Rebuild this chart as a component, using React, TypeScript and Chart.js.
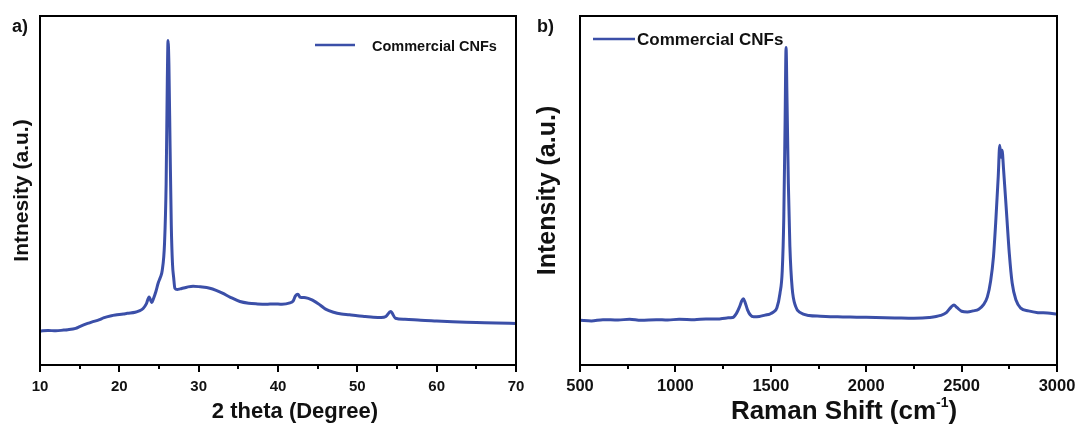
import React, { useEffect, useRef } from 'react';
import { Chart, registerables } from 'chart.js';

Chart.register(...registerables);

const LINE_COLOR = '#3b4fa8';
const FONT = '"Liberation Sans", Arial, Helvetica, sans-serif';

// ---- Panel a) XRD ----
const xrdAngle = [10, 11, 12, 13, 13.5, 14.5, 15, 16, 16.5, 17.5, 18, 19, 19.5, 20.5, 21, 22, 22.5, 23, 23.4, 23.75, 24.1, 24.3, 24.6, 24.9, 25.15, 25.4, 25.7, 25.9, 26.05, 26.14, 26.25, 26.4, 26.55, 26.7, 26.85, 27.0, 27.3, 27.65, 28.5, 29.3, 30.2, 31.4, 32.2, 33, 34, 35.2, 36.3, 37.4, 38.5, 39.5, 40.5, 41.5, 41.9, 42.2, 42.5, 42.8, 43.5, 44.4, 45.3, 46, 47, 48, 49, 50, 51, 52, 53, 53.6, 54.2, 54.8, 56, 58, 60, 62, 65, 67.5, 70];
const xrdIntensity = [9.7, 9.9, 9.8, 10.0, 10.1, 10.5, 11.0, 11.9, 12.3, 13.0, 13.5, 14.1, 14.3, 14.6, 14.8, 15.1, 15.5, 16.2, 17.5, 19.5, 17.9, 19.0, 21.0, 23.5, 25.0, 27.0, 35, 52, 82, 93, 86, 62, 40, 29, 25, 22.0, 21.6, 21.8, 22.3, 22.6, 22.4, 22.0, 21.4, 20.6, 19.4, 18.2, 17.7, 17.5, 17.4, 17.5, 17.4, 17.8, 18.3, 19.8, 20.3, 19.4, 19.3, 18.5, 17.2, 16.0, 15.1, 14.6, 14.4, 14.1, 13.9, 13.7, 13.6, 13.9, 15.3, 13.4, 13.1, 12.8, 12.6, 12.4, 12.2, 12.0, 11.9];
const xrdMinorTicks = [15, 25, 35, 45, 55, 65];

// ---- Panel b) Raman ----
const ramanShift = [500, 560, 620, 700, 760, 820, 900, 960, 1020, 1100, 1160, 1220, 1270, 1300, 1320, 1335, 1348, 1356, 1365, 1378, 1392, 1410, 1440, 1470, 1495, 1515, 1532, 1548, 1560, 1568, 1575, 1580, 1585, 1592, 1600, 1612, 1630, 1655, 1700, 1760, 1850, 1950, 2050, 2150, 2250, 2330, 2390, 2420, 2445, 2460, 2475, 2500, 2530, 2560, 2590, 2615, 2635, 2652, 2667, 2680, 2692, 2700, 2706, 2712, 2720, 2735, 2750, 2765, 2785, 2810, 2850, 2900, 2950, 3000];
const ramanIntensity = [12.8, 12.6, 13.0, 12.9, 13.1, 12.8, 13.0, 12.9, 13.1, 13.0, 13.2, 13.2, 13.5, 13.6, 14.8, 16.5, 18.4, 19.0, 18.0, 15.8, 14.4, 13.8, 13.9, 14.3, 14.6, 15.2, 16.4, 20.5, 27, 42, 70, 91, 76, 52, 34, 22, 16.8, 15.0, 14.2, 14.0, 13.8, 13.7, 13.6, 13.5, 13.4, 13.6, 14.2, 15.0, 16.6, 17.2, 16.5, 15.4, 15.2, 15.5, 16.0, 17.3, 19.5, 24.0, 31, 42, 54, 63, 59.5, 61.5, 56, 44, 32, 23.5, 18.6, 16.3, 15.5, 15.0, 14.9, 14.6];
const ramanMinorTicks = [750, 1250, 1750, 2250, 2750];

const seriesLabel = 'Commercial CNFs';

type Spec = {
  canvasLeft: number;
  width: number;
  padRight: number;
  yWidth: number;
  xMin: number;
  xMax: number;
  step: number;
  minor: number[];
  tickSize: number;
  tickPad: number;
  xs: number[];
  ys: number[];
  yTitle: string;
  yTitleSize: number;
  yTitlePad: number;
  legend: { x1: number; x2: number; y: number; tx: number; ty: number; size: number };
  panel: { text: string; x: number; y: number };
  xTitle: { main: string; sup?: string; tail?: string; cx: number; baseline: number; size: number };
};

const H = 432;
const TOP = 16;
const BOTTOM = 365;

function makePlugin(spec: Spec) {
  return {
    id: 'decor',
    afterDraw(chart: any) {
      const { ctx, chartArea } = chart;
      const xs = chart.scales.x;
      ctx.save();
      // frame
      ctx.strokeStyle = '#000';
      ctx.lineWidth = 2;
      ctx.strokeRect(chartArea.left, chartArea.top, chartArea.right - chartArea.left, chartArea.bottom - chartArea.top);
      // major ticks (from the scale's own ticks)
      for (const t of xs.ticks) {
        const px = Math.round(xs.getPixelForValue(t.value));
        ctx.beginPath();
        ctx.moveTo(px, chartArea.bottom);
        ctx.lineTo(px, chartArea.bottom + 7);
        ctx.stroke();
      }
      // minor ticks
      for (const v of spec.minor) {
        const px = Math.round(xs.getPixelForValue(v));
        ctx.beginPath();
        ctx.moveTo(px, chartArea.bottom);
        ctx.lineTo(px, chartArea.bottom + 4);
        ctx.stroke();
      }
      // legend
      ctx.strokeStyle = LINE_COLOR;
      ctx.lineWidth = 2.5;
      ctx.beginPath();
      ctx.moveTo(spec.legend.x1, spec.legend.y);
      ctx.lineTo(spec.legend.x2, spec.legend.y);
      ctx.stroke();
      ctx.fillStyle = '#111';
      ctx.textBaseline = 'alphabetic';
      ctx.textAlign = 'left';
      ctx.font = `bold ${spec.legend.size}px ${FONT}`;
      ctx.fillText(seriesLabel, spec.legend.tx, spec.legend.ty);
      // panel label
      ctx.font = `bold 18px ${FONT}`;
      ctx.fillText(spec.panel.text, spec.panel.x, spec.panel.y);
      // x title
      const t = spec.xTitle;
      const mainFont = `bold ${t.size}px ${FONT}`;
      const supSize = Math.round(t.size * 0.55);
      const supFont = `bold ${supSize}px ${FONT}`;
      ctx.font = mainFont;
      const wMain = ctx.measureText(t.main).width;
      const wTail = t.tail ? ctx.measureText(t.tail).width : 0;
      ctx.font = supFont;
      const wSup = t.sup ? ctx.measureText(t.sup).width : 0;
      let x = t.cx - (wMain + wSup + wTail) / 2;
      ctx.font = mainFont;
      ctx.fillText(t.main, x, t.baseline);
      x += wMain;
      if (t.sup) {
        ctx.font = supFont;
        ctx.fillText(t.sup, x, t.baseline - t.size * 0.48);
        x += wSup;
      }
      if (t.tail) {
        ctx.font = mainFont;
        ctx.fillText(t.tail, x, t.baseline);
      }
      ctx.restore();
    },
  };
}

function Panel({ spec }: { spec: Spec }) {
  const ref = useRef<HTMLCanvasElement | null>(null);
  useEffect(() => {
    if (!ref.current) return;
    const data = spec.xs.map((x, i) => ({ x, y: spec.ys[i] }));
    const chart = new Chart(ref.current, {
      type: 'line',
      data: {
        datasets: [
          {
            label: seriesLabel,
            data,
            borderColor: LINE_COLOR,
            borderWidth: 3,
            pointRadius: 0,
            cubicInterpolationMode: 'monotone',
            fill: false,
          },
        ],
      },
      options: {
        animation: false,
        responsive: false,
        devicePixelRatio: 1,
        layout: { padding: { left: 0, right: spec.padRight, top: TOP, bottom: 0 } },
        plugins: { legend: { display: false }, tooltip: { enabled: false } },
        scales: {
          x: {
            type: 'linear',
            min: spec.xMin,
            max: spec.xMax,
            border: { display: false },
            grid: { display: true, drawOnChartArea: false, drawTicks: true, tickLength: 7, color: 'rgba(0,0,0,0)', lineWidth: 2 },
            ticks: {
              stepSize: spec.step,
              padding: spec.tickPad,
              color: '#111',
              maxRotation: 0,
              autoSkip: false,
              font: { family: FONT, weight: 'bold', size: spec.tickSize },
              callback: (v: any) => String(v),
            },
            afterFit: (s: any) => {
              s.height = H - BOTTOM;
              s.paddingLeft = 0;
              s.paddingRight = 0;
            },
          },
          y: {
            min: 0,
            max: 100,
            border: { display: false },
            grid: { display: false },
            ticks: { display: false },
            title: {
              display: true,
              text: spec.yTitle,
              color: '#111',
              font: { family: FONT, weight: 'bold', size: spec.yTitleSize },
              padding: { top: spec.yTitlePad, bottom: 0 },
            },
            afterFit: (s: any) => {
              s.width = spec.yWidth;
            },
          },
        },
      },
      plugins: [makePlugin(spec)],
    } as any);
    return () => chart.destroy();
  }, [spec]);
  return (
    <canvas
      ref={ref}
      width={spec.width}
      height={H}
      style={{ position: 'absolute', left: spec.canvasLeft, top: 0, width: spec.width, height: H }}
    />
  );
}

const specA: Spec = {
  canvasLeft: 0,
  width: 540,
  padRight: 24,
  yWidth: 40,
  xMin: 10,
  xMax: 70,
  step: 10,
  minor: xrdMinorTicks,
  tickSize: 15,
  tickPad: 6,
  xs: xrdAngle,
  ys: xrdIntensity,
  yTitle: 'Intnesity (a.u.)',
  yTitleSize: 21,
  yTitlePad: 10,
  legend: { x1: 315, x2: 355, y: 45, tx: 372, ty: 51, size: 14.5 },
  panel: { text: 'a)', x: 12, y: 32 },
  xTitle: { main: '2 theta (Degree)', cx: 295, baseline: 418, size: 22 },
};

const specB: Spec = {
  canvasLeft: 520,
  width: 560,
  padRight: 23,
  yWidth: 60,
  xMin: 500,
  xMax: 3000,
  step: 500,
  minor: ramanMinorTicks,
  tickSize: 16.5,
  tickPad: 5,
  xs: ramanShift,
  ys: ramanIntensity,
  yTitle: 'Intensity (a.u.)',
  yTitleSize: 25,
  yTitlePad: 13,
  legend: { x1: 73, x2: 115, y: 39, tx: 117, ty: 45, size: 17 },
  panel: { text: 'b)', x: 17, y: 32 },
  xTitle: { main: 'Raman Shift (cm', sup: '-1', tail: ')', cx: 324, baseline: 419, size: 26 },
};

export default function App() {
  return (
    <div style={{ position: 'absolute', left: 0, top: 0, width: 1080, height: H, background: '#fff', overflow: 'hidden' }}>
      <Panel spec={specA} />
      <Panel spec={specB} />
    </div>
  );
}
